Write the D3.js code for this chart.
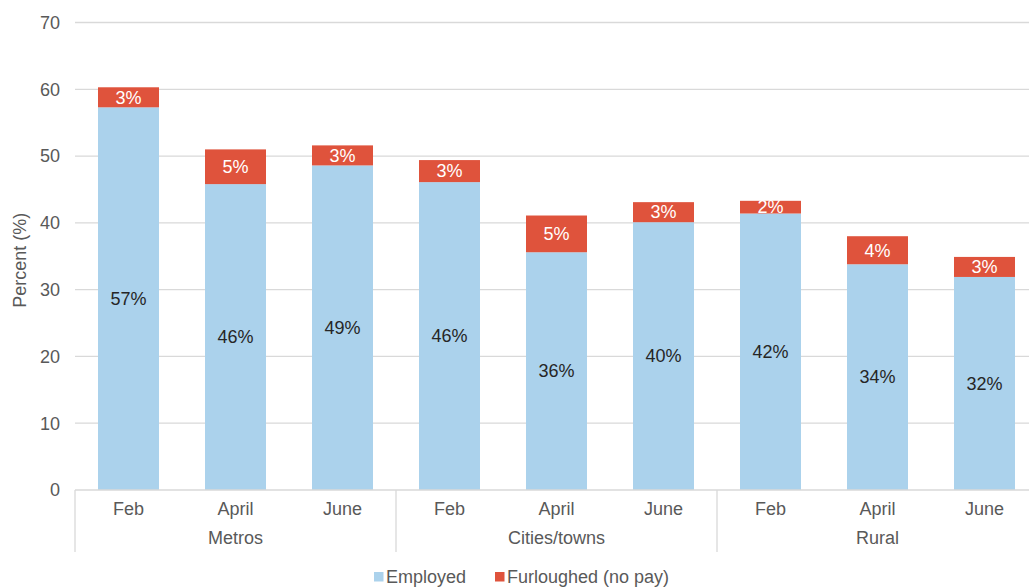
<!DOCTYPE html>
<html>
<head>
<meta charset="utf-8">
<script src="https://cdn.jsdelivr.net/npm/d3@7"></script>
<style>
  body { margin: 0; background: #fff; }
  svg { display: block; font-family: "Helvetica Neue", Helvetica, Arial, "Liberation Sans", sans-serif; }
</style>
</head>
<body>
<div id="chart"></div>
<script>
// data
var groups = ["Metros", "Cities/towns", "Rural"];
var months = ["Feb", "April", "June"];
var employed   = [57.3, 45.8, 48.6, 46.1, 35.6, 40.1, 41.4, 33.8, 31.9];
var furloughed = [3.0, 5.2, 3.0, 3.3, 5.5, 3.0, 1.9, 4.2, 3.0];
var employedLbl   = ["57%", "46%", "49%", "46%", "36%", "40%", "42%", "34%", "32%"];
var furloughedLbl = ["3%", "5%", "3%", "3%", "5%", "3%", "2%", "4%", "3%"];
var yTicks = [0, 10, 20, 30, 40, 50, 60, 70];
var seriesNames = ["Employed", "Furloughed (no pay)"];

var W = 1029, H = 587;
var plotL = 75, plotR = 1038, plotT = 22.5, plotB = 490;
var blue = "#abd2ec", red = "#df533c", grid = "#d9d9d9", txt = "#595959";

var svg = d3.select("#chart").append("svg").attr("width", W).attr("height", H);

// one slot per bar, keyed "group|month"
var keys = [];
groups.forEach(g => months.forEach(m => keys.push(g + "|" + m)));

var x = d3.scaleBand().domain(keys).range([plotL, plotR]).paddingInner(0.43).paddingOuter(0.215);
var y = d3.scaleLinear().domain([0, 70]).range([plotB, plotT]);

// gridlines
svg.append("g").selectAll("line").data(yTicks.slice(1)).join("line")
  .attr("x1", plotL).attr("x2", plotR)
  .attr("y1", d => y(d)).attr("y2", d => y(d))
  .attr("stroke", grid).attr("stroke-width", 1.3);

// y tick labels
svg.append("g").selectAll("text").data(yTicks).join("text")
  .attr("x", 60).attr("y", d => y(d)).attr("dy", "0.35em")
  .attr("text-anchor", "end").attr("font-size", 18).attr("fill", txt)
  .text(d => d);

svg.append("text")
  .attr("transform", "translate(26," + ((plotT + plotB) / 2 + 4) + ") rotate(-90)")
  .attr("text-anchor", "middle").attr("font-size", 18).attr("fill", txt)
  .text("Percent (%)");

// stacked bars
var rows = keys.map((k, i) => ({ key: k, e: employed[i], f: furloughed[i], el: employedLbl[i], fl: furloughedLbl[i] }));
var bars = svg.append("g");
bars.selectAll("rect.emp").data(rows).join("rect").attr("class", "emp")
  .attr("x", d => x(d.key)).attr("width", x.bandwidth())
  .attr("y", d => y(d.e)).attr("height", d => y(0) - y(d.e))
  .attr("fill", blue);
bars.selectAll("rect.fur").data(rows).join("rect").attr("class", "fur")
  .attr("x", d => x(d.key)).attr("width", x.bandwidth())
  .attr("y", d => y(d.e + d.f)).attr("height", d => y(d.e) - y(d.e + d.f))
  .attr("fill", red);

// labels in the bars
bars.selectAll("text.el").data(rows).join("text").attr("class", "el")
  .attr("x", d => x(d.key) + x.bandwidth() / 2).attr("y", d => y(d.e / 2)).attr("dy", "0.35em")
  .attr("text-anchor", "middle").attr("font-size", 18).attr("fill", "#262626")
  .text(d => d.el);
bars.selectAll("text.fl").data(rows).join("text").attr("class", "fl")
  .attr("x", d => x(d.key) + x.bandwidth() / 2).attr("y", d => y(d.e + d.f / 2)).attr("dy", "0.35em")
  .attr("text-anchor", "middle").attr("font-size", 18).attr("fill", "#fff")
  .text(d => d.fl);

// x axis: baseline, month labels, group labels and separators
var ax = svg.append("g");
ax.append("line").attr("x1", plotL).attr("x2", plotR).attr("y1", plotB).attr("y2", plotB)
  .attr("stroke", grid).attr("stroke-width", 1.3);
var step = x.step();
var sepX = d3.range(groups.length + 1).map(i => plotL + i * months.length * step);
ax.selectAll("line.sep").data(sepX).join("line").attr("class", "sep")
  .attr("x1", d => d).attr("x2", d => d).attr("y1", plotB).attr("y2", 552)
  .attr("stroke", grid).attr("stroke-width", 1.3);
ax.selectAll("text.m").data(keys).join("text").attr("class", "m")
  .attr("x", d => x(d) + x.bandwidth() / 2).attr("y", 509).attr("dy", "0.35em")
  .attr("text-anchor", "middle").attr("font-size", 18).attr("fill", txt)
  .text(d => d.split("|")[1]);
ax.selectAll("text.g").data(groups).join("text").attr("class", "g")
  .attr("x", (d, i) => (sepX[i] + sepX[i + 1]) / 2).attr("y", 538).attr("dy", "0.35em")
  .attr("text-anchor", "middle").attr("font-size", 18).attr("fill", txt)
  .text(d => d);

// legend
var leg = svg.append("g");
var legX = [374, 495];
var legCol = [blue, red];
seriesNames.forEach((s, i) => {
  leg.append("rect").attr("x", legX[i]).attr("y", 572).attr("width", 9.5).attr("height", 9.5).attr("fill", legCol[i]);
  leg.append("text").attr("x", legX[i] + 12).attr("y", 577).attr("dy", "0.35em")
    .attr("font-size", 18).attr("fill", txt).text(s);
});
</script>
</body>
</html>
